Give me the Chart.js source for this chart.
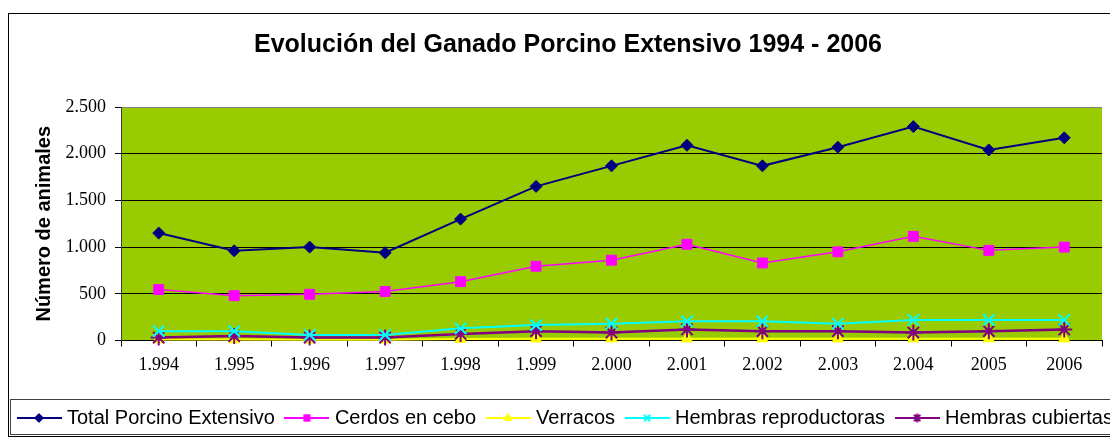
<!DOCTYPE html>
<html>
<head>
<meta charset="utf-8">
<script src="https://cdn.jsdelivr.net/npm/chart.js@4/dist/chart.umd.min.js"></script>
<style>
  html, body { margin: 0; padding: 0; background: #fff; overflow: hidden; }
  #wrap { width: 1110px; height: 437px; overflow: hidden; }
</style>
</head>
<body>
<div id="wrap"><canvas id="grafico" width="1129" height="438"></canvas></div>
<script>
// datos
var anios = ['1.994', '1.995', '1.996', '1.997', '1.998', '1.999', '2.000', '2.001', '2.002', '2.003', '2.004', '2005', '2006'];
var totalPorcino = [1150, 960, 1000, 940, 1300, 1650, 1870, 2090, 1870, 2070, 2290, 2040, 2170];
var cerdosCebo = [545, 480, 495, 525, 630, 795, 860, 1030, 830, 950, 1115, 965, 1000];
var verracos = [10, 10, 8, 8, 15, 20, 20, 20, 20, 20, 20, 20, 20];
var hembrasReproductoras = [100, 100, 60, 60, 130, 165, 180, 205, 205, 180, 220, 220, 220];
var hembrasCubiertas = [32, 47, 32, 32, 70, 100, 85, 118, 100, 100, 85, 100, 118];
var ticksY = [0, 500, 1000, 1500, 2000, 2500];

var titulo = 'Evolución del Ganado Porcino Extensivo 1994 - 2006';
var tituloY = 'Número de animales';

function formatoMiles(v){
    return String(v).replace(/\B(?=(\d{3})+(?!\d))/g, '.');
}

// simbolo de la leyenda: linea con el marcador en medio
function simbolo(color, estilo, radio, grosor){
    var c = document.createElement('canvas');
    c.width = 45;
    c.height = 16;
    var ctx = c.getContext('2d');
    ctx.strokeStyle = color;
    ctx.lineWidth = 2;
    ctx.beginPath();
    ctx.moveTo(0, 8);
    ctx.lineTo(45, 8);
    ctx.stroke();
    ctx.fillStyle = color;
    ctx.lineWidth = grosor;
    Chart.helpers.drawPoint(ctx, {pointStyle: estilo, radius: radio, rotation: 0, borderWidth: grosor}, 22.5, 8);
    return c;
}

var series = [
    {label: 'Total Porcino Extensivo', data: totalPorcino, color: '#000080', estilo: 'rectRot', radio: 6, linea: 2, borde: 1},
    {label: 'Cerdos en cebo', data: cerdosCebo, color: '#FF00FF', estilo: 'rect', radio: 7, linea: 1.5, borde: 1},
    {label: 'Verracos', data: verracos, color: '#FFFF00', estilo: 'triangle', radio: 6.5, linea: 2, borde: 1},
    {label: 'Hembras reproductoras', data: hembrasReproductoras, color: '#00FFFF', estilo: 'crossRot', radio: 8, linea: 2, borde: 2},
    {label: 'Hembras cubiertas', data: hembrasCubiertas, color: '#800080', estilo: 'star', radio: 8, linea: 2.5, borde: 2}
];

var datasets = [];
for (var i = 0; i < series.length; i++) {
    var s = series[i];
    datasets.push({
        label: s.label,
        data: s.data,
        borderColor: s.color,
        backgroundColor: s.color,
        borderWidth: s.linea,
        pointStyle: s.estilo,
        pointRadius: s.radio,
        pointBorderWidth: s.borde,
        pointBackgroundColor: s.color,
        pointBorderColor: s.color,
        tension: 0,
        clip: false,
        order: (i == 2) ? 10 : i
    });
}

var marco = {
    id: 'marco',
    beforeDraw: function(chart){
        var ctx = chart.ctx;
        var a = chart.chartArea;
        ctx.save();
        ctx.fillStyle = '#fff';
        ctx.fillRect(0, 0, chart.width, chart.height);
        ctx.strokeStyle = '#000';
        ctx.lineWidth = 1;
        ctx.strokeRect(8.5, 13.5, chart.width, 423);
        ctx.strokeStyle = '#404040';
        ctx.strokeRect(10.5, 399.5, chart.width, 35);
        ctx.fillStyle = '#99CC00';
        ctx.fillRect(a.left, a.top, a.right - a.left, a.bottom - a.top);
        ctx.restore();
    }
};

var ctx = document.getElementById('grafico');
var chart = new Chart(ctx, {
    type: 'line',
    data: {
        labels: anios,
        datasets: datasets
    },
    options: {
        responsive: false,
        animation: false,
        devicePixelRatio: 1,
        layout: {padding: {left: 7, right: 0, top: 0, bottom: 0}},
        plugins: {
            tooltip: {enabled: false},
            title: {
                display: true,
                text: titulo,
                color: '#000',
                font: {family: "'Liberation Sans', Arial, sans-serif", size: 25, weight: 'bold'},
                padding: {top: 30, bottom: 47}
            },
            legend: {
                position: 'bottom',
                align: 'start',
                labels: {
                    usePointStyle: true,
                    pointStyleWidth: 36,
                    padding: 14,
                    color: '#000',
                    font: {family: "'Liberation Sans', Arial, sans-serif", size: 20},
                    generateLabels: function(chart){
                        return series.map(function(s, idx){
                            return {
                                text: s.label,
                                pointStyle: simbolo(s.color, s.estilo, 4.5, s.borde),
                                fillStyle: s.color,
                                strokeStyle: s.color,
                                lineWidth: 0,
                                hidden: false,
                                datasetIndex: idx
                            };
                        });
                    }
                }
            }
        },
        scales: {
            x: {
                offset: true,
                grid: {
                    offset: true,
                    drawOnChartArea: false,
                    drawTicks: true,
                    tickLength: 6,
                    color: '#000'
                },
                border: {color: '#000', width: 1},
                ticks: {
                    color: '#000',
                    padding: 8,
                    maxRotation: 0,
                    autoSkip: false,
                    font: {family: "'Liberation Serif', 'Times New Roman', serif", size: 18}
                },
                afterFit: function(scale){ scale.height = 53.5; }
            },
            y: {
                min: 0,
                max: 2500,
                afterBuildTicks: function(scale){
                    scale.ticks = ticksY.map(function(v){ return {value: v}; });
                },
                grid: {
                    color: function(c){ return c.tick && c.tick.value === 2500 ? '#808080' : '#000'; },
                    tickColor: '#000',
                    tickLength: 6,
                    lineWidth: 1
                },
                border: {color: '#404040', width: 1},
                ticks: {
                    color: '#000',
                    padding: 9,
                    font: {family: "'Liberation Serif', 'Times New Roman', serif", size: 18},
                    callback: function(v){ return formatoMiles(v); }
                },
                title: {
                    display: true,
                    text: tituloY,
                    color: '#000',
                    font: {family: "'Liberation Sans', Arial, sans-serif", size: 20, weight: 'bold'},
                    padding: {top: 25, bottom: 0}
                },
                afterFit: function(scale){ scale.width = 114; }
            },
            derecha: {
                position: 'right',
                display: true,
                grid: {display: false, drawTicks: false},
                border: {display: false},
                ticks: {display: false},
                afterFit: function(scale){ scale.width = 27; }
            }
        }
    },
    plugins: [marco]
});
</script>
</body>
</html>
